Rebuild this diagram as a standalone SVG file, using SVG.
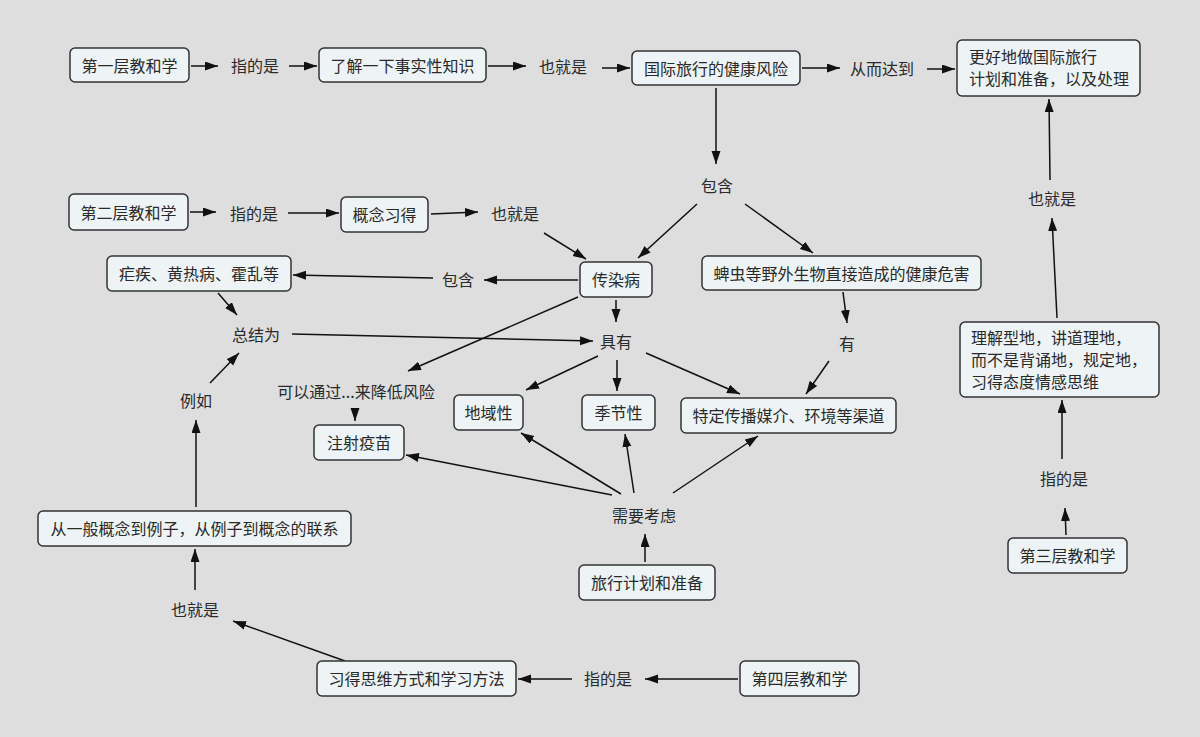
<svg xmlns="http://www.w3.org/2000/svg" width="1200" height="737" viewBox="0 0 1200 737">
<defs>
<marker id="ah" markerUnits="userSpaceOnUse" markerWidth="14" markerHeight="10" refX="13" refY="4.5" orient="auto">
<path d="M0,0 L13,4.5 L0,9 z" fill="#111"/>
</marker>
<style>
text{font-family:"Noto Sans CJK SC","Noto Sans",sans-serif;font-size:16px;fill:#2a2a2a}
.c{text-anchor:middle;dominant-baseline:central}
.box{fill:#eef3f5;stroke:#333;stroke-width:1.5}
#connectors line{stroke:#111;stroke-width:1.5;marker-end:url(#ah)}
</style>
</defs>
<rect width="1200" height="737" fill="#dedede"/>
<g id="connectors">
<line x1="191" y1="66" x2="218" y2="66"/>
<line x1="289" y1="66" x2="317" y2="66"/>
<line x1="488" y1="66" x2="526" y2="66"/>
<line x1="602" y1="68" x2="630" y2="68"/>
<line x1="802" y1="68" x2="840" y2="68"/>
<line x1="927" y1="69" x2="955" y2="69"/>
<line x1="716" y1="88" x2="716" y2="164"/>
<line x1="697" y1="204" x2="638" y2="258"/>
<line x1="745" y1="204" x2="813" y2="253"/>
<line x1="190" y1="212" x2="216" y2="212"/>
<line x1="288" y1="213" x2="339" y2="213"/>
<line x1="431" y1="214" x2="478" y2="212"/>
<line x1="544" y1="233" x2="586" y2="259"/>
<line x1="578" y1="280" x2="484" y2="280"/>
<line x1="433" y1="278" x2="293" y2="275"/>
<line x1="218" y1="293" x2="237" y2="315"/>
<line x1="292" y1="334" x2="593" y2="341"/>
<line x1="616" y1="300" x2="616" y2="322"/>
<line x1="578" y1="297" x2="408" y2="371"/>
<line x1="843" y1="292" x2="847" y2="323"/>
<line x1="829" y1="361" x2="806" y2="394"/>
<line x1="598" y1="356" x2="526" y2="390"/>
<line x1="617" y1="360" x2="617" y2="391"/>
<line x1="646" y1="353" x2="740" y2="394"/>
<line x1="355" y1="410" x2="355" y2="421"/>
<line x1="612" y1="495" x2="406" y2="455"/>
<line x1="621" y1="494" x2="521" y2="433"/>
<line x1="634" y1="493" x2="625" y2="434"/>
<line x1="673" y1="493" x2="758" y2="436"/>
<line x1="645" y1="562" x2="645" y2="534"/>
<line x1="1066" y1="535" x2="1065" y2="508"/>
<line x1="1062" y1="459" x2="1062" y2="400"/>
<line x1="1057" y1="318" x2="1052" y2="218"/>
<line x1="1050" y1="180" x2="1049" y2="99"/>
<line x1="738" y1="679" x2="645" y2="679"/>
<line x1="572" y1="679" x2="518" y2="679"/>
<line x1="345" y1="661" x2="233" y2="621"/>
<line x1="195" y1="590" x2="195" y2="549"/>
<line x1="196" y1="507" x2="196" y2="420"/>
<line x1="210" y1="383" x2="239" y2="353"/>
</g>
<g id="n1"><rect class="box" x="70" y="48" width="119" height="34" rx="5"/><text class="c" x="129.5" y="65">第一层教和学</text></g>
<g id="n2"><rect class="box" x="319" y="48" width="167" height="34" rx="5"/><text class="c" x="402.5" y="65">了解一下事实性知识</text></g>
<g id="n3"><rect class="box" x="632" y="51" width="168" height="34" rx="5"/><text class="c" x="716" y="68">国际旅行的健康风险</text></g>
<g id="n4"><rect class="box" x="957" y="40" width="183" height="56" rx="5"/><text x="969" y="63">更好地做国际旅行</text><text x="969" y="85">计划和准备，以及处理</text></g>
<g id="n5"><rect class="box" x="69" y="194" width="119" height="36" rx="5"/><text class="c" x="128.5" y="212">第二层教和学</text></g>
<g id="n6"><rect class="box" x="341" y="197" width="87" height="35" rx="5"/><text class="c" x="384.5" y="214">概念习得</text></g>
<g id="n7"><rect class="box" x="107" y="256" width="184" height="35" rx="5"/><text class="c" x="199" y="273">疟疾、黄热病、霍乱等</text></g>
<g id="n8"><rect class="box" x="580" y="262" width="72" height="35" rx="5"/><text class="c" x="616" y="279">传染病</text></g>
<g id="n9"><rect class="box" x="702" y="256" width="279" height="34" rx="5"/><text class="c" x="841.5" y="273">蜱虫等野外生物直接造成的健康危害</text></g>
<g id="n10"><rect class="box" x="314" y="425" width="90" height="35" rx="5"/><text class="c" x="359" y="442">注射疫苗</text></g>
<g id="n11"><rect class="box" x="454" y="395" width="69" height="35" rx="5"/><text class="c" x="488.5" y="412">地域性</text></g>
<g id="n12"><rect class="box" x="582" y="395" width="73" height="35" rx="5"/><text class="c" x="618.5" y="412">季节性</text></g>
<g id="n13"><rect class="box" x="681" y="398" width="215" height="35" rx="5"/><text class="c" x="788.5" y="415">特定传播媒介、环境等渠道</text></g>
<g id="n14"><rect class="box" x="960" y="322" width="199" height="75" rx="5"/><text x="971" y="344">理解型地，讲道理地，</text><text x="971" y="366">而不是背诵地，规定地，</text><text x="971" y="388">习得态度情感思维</text></g>
<g id="n15"><rect class="box" x="1008" y="538" width="119" height="35" rx="5"/><text class="c" x="1067.5" y="555">第三层教和学</text></g>
<g id="n16"><rect class="box" x="38" y="511" width="313" height="35" rx="5"/><text class="c" x="194.5" y="528">从一般概念到例子，从例子到概念的联系</text></g>
<g id="n17"><rect class="box" x="579" y="565" width="136" height="35" rx="5"/><text class="c" x="647" y="582">旅行计划和准备</text></g>
<g id="n18"><rect class="box" x="317" y="661" width="199" height="35" rx="5"/><text class="c" x="416.5" y="678">习得思维方式和学习方法</text></g>
<g id="n19"><rect class="box" x="740" y="661" width="119" height="35" rx="5"/><text class="c" x="799.5" y="678">第四层教和学</text></g>
<g id="labels">
<text class="c" x="255" y="65">指的是</text>
<text class="c" x="563" y="66">也就是</text>
<text class="c" x="882" y="68">从而达到</text>
<text class="c" x="717" y="185">包含</text>
<text class="c" x="254" y="213">指的是</text>
<text class="c" x="515" y="213">也就是</text>
<text class="c" x="458" y="279">包含</text>
<text class="c" x="256" y="334">总结为</text>
<text class="c" x="616" y="341">具有</text>
<text class="c" x="847" y="343">有</text>
<text class="c" x="356" y="391">可以通过...来降低风险</text>
<text class="c" x="196" y="400">例如</text>
<text class="c" x="644" y="515">需要考虑</text>
<text class="c" x="1052" y="198">也就是</text>
<text class="c" x="1064" y="478">指的是</text>
<text class="c" x="195" y="609">也就是</text>
<text class="c" x="608" y="678">指的是</text>
</g>
</svg>
